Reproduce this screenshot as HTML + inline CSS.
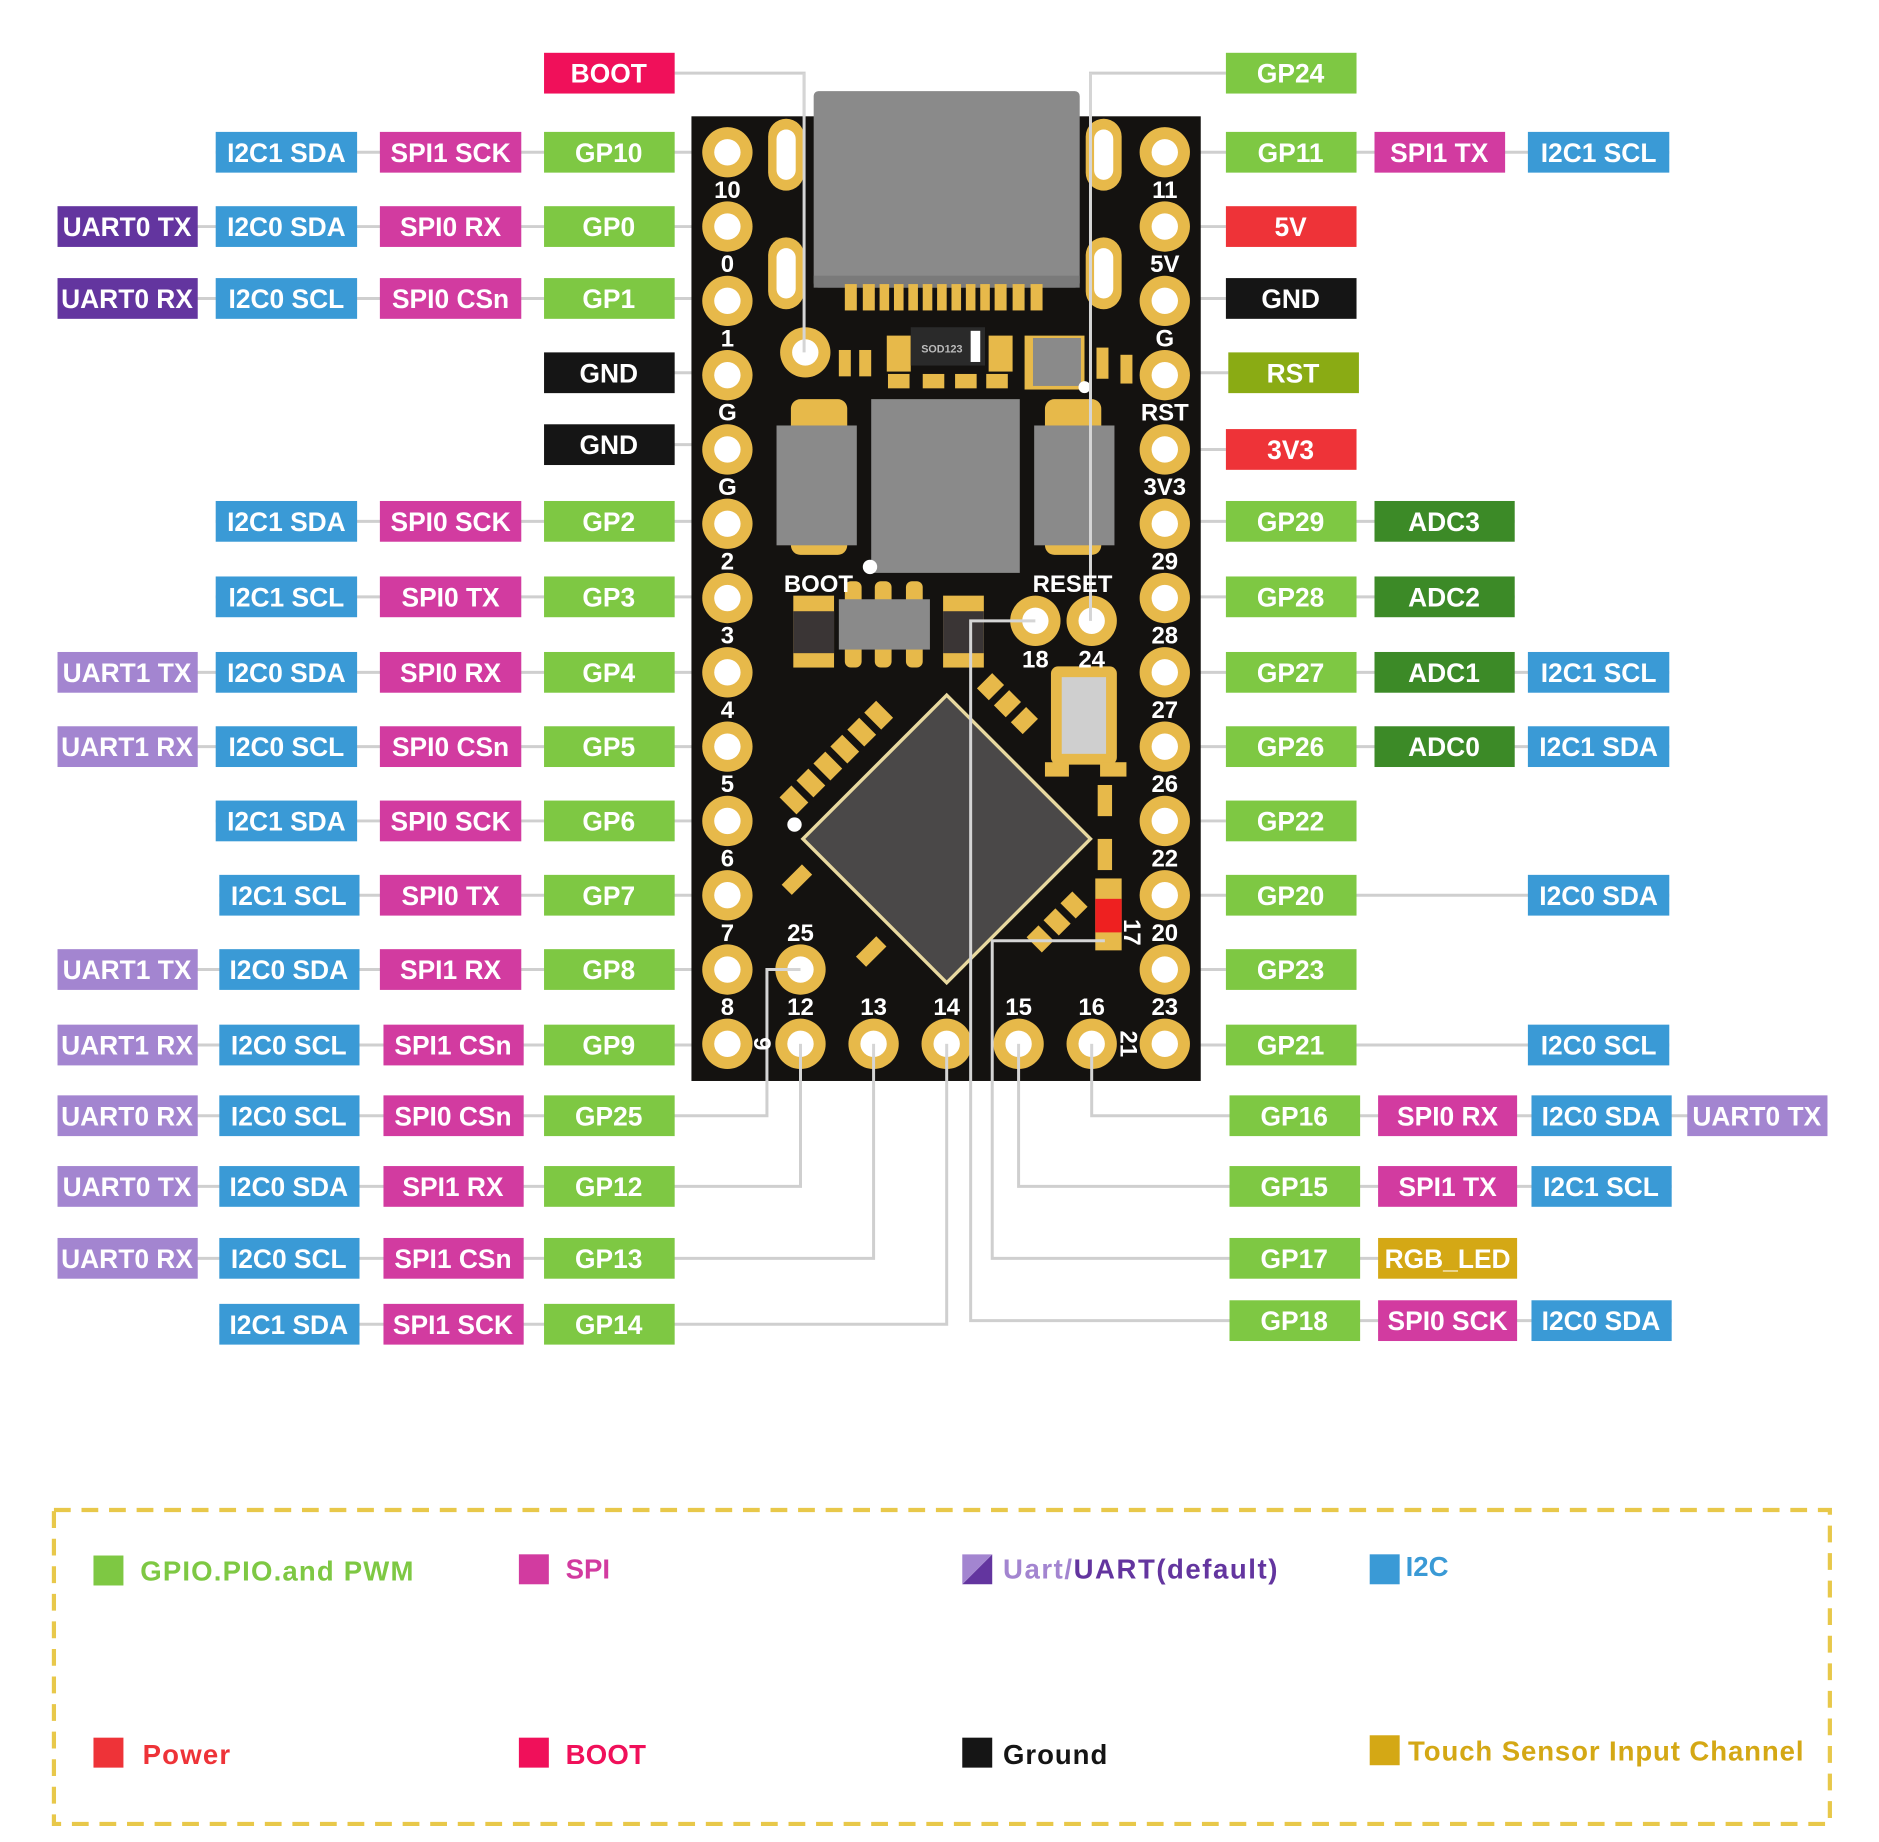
<!DOCTYPE html>
<html><head><meta charset="utf-8"><style>
html,body{margin:0;padding:0;background:#fff}
svg{display:block}
text{font-family:"Liberation Sans",sans-serif;font-weight:bold}
.l text{fill:#fff;font-size:22px;text-anchor:middle}
.pn{fill:#fff;font-size:20px;text-anchor:middle}
</style></head><body>
<svg width="1879" height="1842" viewBox="0 0 1568 1537" xmlns="http://www.w3.org/2000/svg">
<rect width="1568" height="1537" fill="#fff"/>
<g stroke="#cfcfcf" stroke-width="2.5" fill="none">
<path d="M563 61H671V294"/>
<path d="M1023 61H910V518"/>
<path d="M180 127H590M48 189H590M48 249H590M454 311H590M454 371H590M180 435H590M180 498H590M48 561H590M48 623H590M180 685H590M183 747H590M48 809H590M48 872H590"/>
<path d="M980 127H1393M980 189H1023M980 249H1023M980 311H1025M980 375H1023M980 435H1264M980 498H1264M980 561H1393M980 623H1393M980 685H1023M980 747H1393M980 809H1023M980 872H1393"/>
<path d="M48 931H640V809H668"/><path d="M48 990H668V871"/><path d="M48 1050H729V871"/><path d="M183 1105H790V871"/>
<path d="M1525 931H911V871"/><path d="M1395 990H850V871"/><path d="M1266 1050H828V785H922"/><path d="M1395 1102H810V518H864"/>
</g>
<rect x="577" y="97" width="425" height="805" fill="#141210"/>
<rect x="679" y="76" width="222" height="164" rx="4" fill="#8a8a8a"/>
<rect x="679" y="230" width="222" height="10" fill="#7a7a7a"/>
<g fill="#e7b94a">
<rect x="705" y="237" width="10" height="22"/><rect x="720" y="237" width="10" height="22"/><rect x="734" y="237" width="8" height="22"/><rect x="746" y="237" width="8" height="22"/><rect x="758" y="237" width="8" height="22"/><rect x="770" y="237" width="8" height="22"/><rect x="782" y="237" width="8" height="22"/><rect x="794" y="237" width="8" height="22"/><rect x="806" y="237" width="8" height="22"/><rect x="818" y="237" width="8" height="22"/><rect x="830" y="237" width="10" height="22"/><rect x="845" y="237" width="10" height="22"/><rect x="860" y="237" width="10" height="22"/>
<rect x="641" y="99" width="30" height="60" rx="15"/><rect x="641" y="198" width="30" height="60" rx="15"/>
<rect x="906" y="99" width="30" height="60" rx="15"/><rect x="906" y="198" width="30" height="60" rx="15"/>
<rect x="740" y="280" width="20" height="30"/><rect x="825" y="280" width="20" height="30"/>
<rect x="700" y="292" width="10" height="22"/><rect x="717" y="292" width="10" height="22"/>
<rect x="915" y="290" width="10" height="26"/><rect x="935" y="296" width="10" height="24"/><rect x="855" y="280" width="50" height="45"/>
<rect x="741" y="312" width="18" height="12"/><rect x="770" y="312" width="18" height="12"/><rect x="797" y="312" width="18" height="12"/><rect x="823" y="312" width="18" height="12"/>
<rect x="660" y="333" width="47" height="130" rx="8"/><rect x="872" y="333" width="47" height="130" rx="8"/>
<rect x="662" y="497" width="34" height="60"/><rect x="705" y="485" width="14" height="72" rx="5"/><rect x="730" y="485" width="14" height="72" rx="5"/><rect x="756" y="485" width="14" height="72" rx="5"/><rect x="787" y="497" width="34" height="60"/>
<rect x="877" y="556" width="55" height="82" rx="6"/>
<rect x="914" y="733" width="22" height="60"/>
</g>
<g fill="#fff"><rect x="648" y="108" width="16" height="42" rx="8"/><rect x="648" y="207" width="16" height="42" rx="8"/><rect x="913" y="108" width="16" height="42" rx="8"/><rect x="913" y="207" width="16" height="42" rx="8"/></g>
<g fill="#8a8a8a">
<rect x="648" y="355" width="67" height="100"/><rect x="863" y="355" width="67" height="100"/>
<rect x="727" y="333" width="124" height="145"/>
<rect x="700" y="500" width="76" height="42"/>
<rect x="862" y="282" width="40" height="40"/>
</g>
<rect x="662" y="510" width="34" height="35" fill="#3a3535"/><rect x="787" y="510" width="34" height="35" fill="#3a3535"/>
<rect x="760" y="273" width="62" height="32" fill="#2a2a2a"/><rect x="810" y="276" width="8" height="26" fill="#fff"/>
<text x="786" y="294" font-size="9" fill="#bbb" font-weight="normal" text-anchor="middle">SOD123</text>
<rect x="886" y="565" width="37" height="64" fill="#cfcfcf"/>
<polygon points="790,578 912,700 790,822 668,700" fill="#e8d9a0"/>
<polygon points="790,582 908,700 790,818 672,700" fill="#4a4848"/>
<g fill="#e7b94a" transform="rotate(-45 700 630)">
<rect x="640" y="620" width="14" height="20"/><rect x="660" y="620" width="14" height="20"/><rect x="680" y="620" width="14" height="20"/><rect x="700" y="620" width="14" height="20"/><rect x="720" y="620" width="14" height="20"/><rect x="740" y="620" width="14" height="20"/>
</g>
<g fill="#e7b94a" transform="rotate(45 840 585)"><rect x="815" y="577" width="14" height="18"/><rect x="835" y="577" width="14" height="18"/><rect x="855" y="577" width="14" height="18"/></g>
<g fill="#e7b94a" transform="rotate(-45 880 770)"><rect x="855" y="762" width="14" height="18"/><rect x="875" y="762" width="14" height="18"/><rect x="895" y="762" width="14" height="18"/></g>
<rect x="653" y="728" width="24" height="12" fill="#e7b94a" transform="rotate(-45 665 734)"/>
<rect x="715" y="788" width="24" height="12" fill="#e7b94a" transform="rotate(-45 727 794)"/>
<rect x="872" y="636" width="20" height="12" fill="#e7b94a"/><rect x="918" y="636" width="22" height="12" fill="#e7b94a"/><rect x="916" y="655" width="12" height="26" fill="#e7b94a"/><rect x="916" y="700" width="12" height="26" fill="#e7b94a"/>
<rect x="914" y="750" width="22" height="28" fill="#ee2020"/>
<circle cx="663" cy="688" r="6" fill="#fff"/><circle cx="726" cy="473" r="6" fill="#fff"/><circle cx="905" cy="323" r="5" fill="#fff"/>
<g fill="#e7b94a">
<circle cx="607" cy="127" r="21"/><circle cx="607" cy="189" r="21"/><circle cx="607" cy="251" r="21"/><circle cx="607" cy="313" r="21"/><circle cx="607" cy="375" r="21"/><circle cx="607" cy="437" r="21"/><circle cx="607" cy="499" r="21"/><circle cx="607" cy="561" r="21"/><circle cx="607" cy="623" r="21"/><circle cx="607" cy="685" r="21"/><circle cx="607" cy="747" r="21"/><circle cx="607" cy="809" r="21"/><circle cx="607" cy="871" r="21"/>
<circle cx="972" cy="127" r="21"/><circle cx="972" cy="189" r="21"/><circle cx="972" cy="251" r="21"/><circle cx="972" cy="313" r="21"/><circle cx="972" cy="375" r="21"/><circle cx="972" cy="437" r="21"/><circle cx="972" cy="499" r="21"/><circle cx="972" cy="561" r="21"/><circle cx="972" cy="623" r="21"/><circle cx="972" cy="685" r="21"/><circle cx="972" cy="747" r="21"/><circle cx="972" cy="809" r="21"/><circle cx="972" cy="871" r="21"/>
<circle cx="668" cy="871" r="21"/><circle cx="729" cy="871" r="21"/><circle cx="790" cy="871" r="21"/><circle cx="850" cy="871" r="21"/><circle cx="911" cy="871" r="21"/>
<circle cx="668" cy="809" r="21"/><circle cx="864" cy="518" r="21"/><circle cx="911" cy="518" r="21"/><circle cx="672" cy="294" r="21"/>
</g>
<g fill="#fff">
<circle cx="607" cy="127" r="11"/><circle cx="607" cy="189" r="11"/><circle cx="607" cy="251" r="11"/><circle cx="607" cy="313" r="11"/><circle cx="607" cy="375" r="11"/><circle cx="607" cy="437" r="11"/><circle cx="607" cy="499" r="11"/><circle cx="607" cy="561" r="11"/><circle cx="607" cy="623" r="11"/><circle cx="607" cy="685" r="11"/><circle cx="607" cy="747" r="11"/><circle cx="607" cy="809" r="11"/><circle cx="607" cy="871" r="11"/>
<circle cx="972" cy="127" r="11"/><circle cx="972" cy="189" r="11"/><circle cx="972" cy="251" r="11"/><circle cx="972" cy="313" r="11"/><circle cx="972" cy="375" r="11"/><circle cx="972" cy="437" r="11"/><circle cx="972" cy="499" r="11"/><circle cx="972" cy="561" r="11"/><circle cx="972" cy="623" r="11"/><circle cx="972" cy="685" r="11"/><circle cx="972" cy="747" r="11"/><circle cx="972" cy="809" r="11"/><circle cx="972" cy="871" r="11"/>
<circle cx="668" cy="871" r="11"/><circle cx="729" cy="871" r="11"/><circle cx="790" cy="871" r="11"/><circle cx="850" cy="871" r="11"/><circle cx="911" cy="871" r="11"/>
<circle cx="668" cy="809" r="11"/><circle cx="864" cy="518" r="11"/><circle cx="911" cy="518" r="11"/><circle cx="672" cy="294" r="11"/>
</g>
<g stroke="#d5d5d5" stroke-width="2.5" fill="none">
<path d="M671 61V294"/><path d="M910 61V518"/><path d="M828 902V785H922"/><path d="M810 902V518H864"/><path d="M640 902V809H668"/><path d="M668 902V871"/><path d="M729 902V871"/><path d="M790 902V871"/><path d="M850 902V871"/><path d="M911 902V871"/>
</g>
<g class="pn">
<text x="607" y="165">10</text><text x="607" y="227">0</text><text x="607" y="289">1</text><text x="607" y="351">G</text><text x="607" y="413">G</text><text x="607" y="475">2</text><text x="607" y="537">3</text><text x="607" y="599">4</text><text x="607" y="661">5</text><text x="607" y="723">6</text><text x="607" y="785">7</text><text x="607" y="847">8</text>
<text x="972" y="165">11</text><text x="972" y="227">5V</text><text x="972" y="289">G</text><text x="972" y="351">RST</text><text x="972" y="413">3V3</text><text x="972" y="475">29</text><text x="972" y="537">28</text><text x="972" y="599">27</text><text x="972" y="661">26</text><text x="972" y="723">22</text><text x="972" y="785">20</text><text x="972" y="847">23</text>
<text x="668" y="847">12</text><text x="729" y="847">13</text><text x="790" y="847">14</text><text x="850" y="847">15</text><text x="911" y="847">16</text><text x="668" y="785">25</text>
<text x="864" y="557">18</text><text x="911" y="557">24</text>
<text x="683" y="494">BOOT</text><text x="895" y="494">RESET</text>
<text x="0" y="0" transform="translate(629,871) rotate(90)">9</text>
<text x="0" y="0" transform="translate(935,871) rotate(90)">21</text>
<text x="0" y="0" transform="translate(938,778) rotate(90)">17</text>
</g>
<g class="l">
<rect x="454" y="44" width="109" height="34" fill="#f0105a"/><text x="508" y="69">BOOT</text>
<rect x="1023" y="44" width="109" height="34" fill="#7ec843"/><text x="1077" y="69">GP24</text>
<rect x="180" y="110" width="118" height="34" fill="#3a9ad6"/><text x="239" y="135">I2C1 SDA</text>
<rect x="317" y="110" width="118" height="34" fill="#d23ba0"/><text x="376" y="135">SPI1 SCK</text>
<rect x="454" y="110" width="109" height="34" fill="#7ec843"/><text x="508" y="135">GP10</text>
<rect x="48" y="172" width="117" height="34" fill="#63359f"/><text x="106" y="197">UART0 TX</text>
<rect x="180" y="172" width="118" height="34" fill="#3a9ad6"/><text x="239" y="197">I2C0 SDA</text>
<rect x="317" y="172" width="118" height="34" fill="#d23ba0"/><text x="376" y="197">SPI0 RX</text>
<rect x="454" y="172" width="109" height="34" fill="#7ec843"/><text x="508" y="197">GP0</text>
<rect x="48" y="232" width="117" height="34" fill="#63359f"/><text x="106" y="257">UART0 RX</text>
<rect x="180" y="232" width="118" height="34" fill="#3a9ad6"/><text x="239" y="257">I2C0 SCL</text>
<rect x="317" y="232" width="118" height="34" fill="#d23ba0"/><text x="376" y="257">SPI0 CSn</text>
<rect x="454" y="232" width="109" height="34" fill="#7ec843"/><text x="508" y="257">GP1</text>
<rect x="454" y="294" width="109" height="34" fill="#151515"/><text x="508" y="319">GND</text>
<rect x="454" y="354" width="109" height="34" fill="#151515"/><text x="508" y="379">GND</text>
<rect x="180" y="418" width="118" height="34" fill="#3a9ad6"/><text x="239" y="443">I2C1 SDA</text>
<rect x="317" y="418" width="118" height="34" fill="#d23ba0"/><text x="376" y="443">SPI0 SCK</text>
<rect x="454" y="418" width="109" height="34" fill="#7ec843"/><text x="508" y="443">GP2</text>
<rect x="180" y="481" width="118" height="34" fill="#3a9ad6"/><text x="239" y="506">I2C1 SCL</text>
<rect x="317" y="481" width="118" height="34" fill="#d23ba0"/><text x="376" y="506">SPI0 TX</text>
<rect x="454" y="481" width="109" height="34" fill="#7ec843"/><text x="508" y="506">GP3</text>
<rect x="48" y="544" width="117" height="34" fill="#a385d0"/><text x="106" y="569">UART1 TX</text>
<rect x="180" y="544" width="118" height="34" fill="#3a9ad6"/><text x="239" y="569">I2C0 SDA</text>
<rect x="317" y="544" width="118" height="34" fill="#d23ba0"/><text x="376" y="569">SPI0 RX</text>
<rect x="454" y="544" width="109" height="34" fill="#7ec843"/><text x="508" y="569">GP4</text>
<rect x="48" y="606" width="117" height="34" fill="#a385d0"/><text x="106" y="631">UART1 RX</text>
<rect x="180" y="606" width="118" height="34" fill="#3a9ad6"/><text x="239" y="631">I2C0 SCL</text>
<rect x="317" y="606" width="118" height="34" fill="#d23ba0"/><text x="376" y="631">SPI0 CSn</text>
<rect x="454" y="606" width="109" height="34" fill="#7ec843"/><text x="508" y="631">GP5</text>
<rect x="180" y="668" width="118" height="34" fill="#3a9ad6"/><text x="239" y="693">I2C1 SDA</text>
<rect x="317" y="668" width="118" height="34" fill="#d23ba0"/><text x="376" y="693">SPI0 SCK</text>
<rect x="454" y="668" width="109" height="34" fill="#7ec843"/><text x="508" y="693">GP6</text>
<rect x="183" y="730" width="117" height="34" fill="#3a9ad6"/><text x="241" y="755">I2C1 SCL</text>
<rect x="317" y="730" width="118" height="34" fill="#d23ba0"/><text x="376" y="755">SPI0 TX</text>
<rect x="454" y="730" width="109" height="34" fill="#7ec843"/><text x="508" y="755">GP7</text>
<rect x="48" y="792" width="117" height="34" fill="#a385d0"/><text x="106" y="817">UART1 TX</text>
<rect x="183" y="792" width="117" height="34" fill="#3a9ad6"/><text x="241" y="817">I2C0 SDA</text>
<rect x="317" y="792" width="118" height="34" fill="#d23ba0"/><text x="376" y="817">SPI1 RX</text>
<rect x="454" y="792" width="109" height="34" fill="#7ec843"/><text x="508" y="817">GP8</text>
<rect x="48" y="855" width="117" height="34" fill="#a385d0"/><text x="106" y="880">UART1 RX</text>
<rect x="183" y="855" width="117" height="34" fill="#3a9ad6"/><text x="241" y="880">I2C0 SCL</text>
<rect x="320" y="855" width="117" height="34" fill="#d23ba0"/><text x="378" y="880">SPI1 CSn</text>
<rect x="454" y="855" width="109" height="34" fill="#7ec843"/><text x="508" y="880">GP9</text>
<rect x="48" y="914" width="117" height="34" fill="#a385d0"/><text x="106" y="939">UART0 RX</text>
<rect x="183" y="914" width="117" height="34" fill="#3a9ad6"/><text x="241" y="939">I2C0 SCL</text>
<rect x="320" y="914" width="117" height="34" fill="#d23ba0"/><text x="378" y="939">SPI0 CSn</text>
<rect x="454" y="914" width="109" height="34" fill="#7ec843"/><text x="508" y="939">GP25</text>
<rect x="48" y="973" width="117" height="34" fill="#a385d0"/><text x="106" y="998">UART0 TX</text>
<rect x="183" y="973" width="117" height="34" fill="#3a9ad6"/><text x="241" y="998">I2C0 SDA</text>
<rect x="320" y="973" width="117" height="34" fill="#d23ba0"/><text x="378" y="998">SPI1 RX</text>
<rect x="454" y="973" width="109" height="34" fill="#7ec843"/><text x="508" y="998">GP12</text>
<rect x="48" y="1033" width="117" height="34" fill="#a385d0"/><text x="106" y="1058">UART0 RX</text>
<rect x="183" y="1033" width="117" height="34" fill="#3a9ad6"/><text x="241" y="1058">I2C0 SCL</text>
<rect x="320" y="1033" width="117" height="34" fill="#d23ba0"/><text x="378" y="1058">SPI1 CSn</text>
<rect x="454" y="1033" width="109" height="34" fill="#7ec843"/><text x="508" y="1058">GP13</text>
<rect x="183" y="1088" width="117" height="34" fill="#3a9ad6"/><text x="241" y="1113">I2C1 SDA</text>
<rect x="320" y="1088" width="117" height="34" fill="#d23ba0"/><text x="378" y="1113">SPI1 SCK</text>
<rect x="454" y="1088" width="109" height="34" fill="#7ec843"/><text x="508" y="1113">GP14</text>
<rect x="1023" y="110" width="109" height="34" fill="#7ec843"/><text x="1077" y="135">GP11</text>
<rect x="1147" y="110" width="109" height="34" fill="#d23ba0"/><text x="1201" y="135">SPI1 TX</text>
<rect x="1275" y="110" width="118" height="34" fill="#3a9ad6"/><text x="1334" y="135">I2C1 SCL</text>
<rect x="1023" y="172" width="109" height="34" fill="#ee3338"/><text x="1077" y="197">5V</text>
<rect x="1023" y="232" width="109" height="34" fill="#151515"/><text x="1077" y="257">GND</text>
<rect x="1025" y="294" width="109" height="34" fill="#8aab14"/><text x="1079" y="319">RST</text>
<rect x="1023" y="358" width="109" height="34" fill="#ee3338"/><text x="1077" y="383">3V3</text>
<rect x="1023" y="418" width="109" height="34" fill="#7ec843"/><text x="1077" y="443">GP29</text>
<rect x="1147" y="418" width="117" height="34" fill="#3c8a27"/><text x="1205" y="443">ADC3</text>
<rect x="1023" y="481" width="109" height="34" fill="#7ec843"/><text x="1077" y="506">GP28</text>
<rect x="1147" y="481" width="117" height="34" fill="#3c8a27"/><text x="1205" y="506">ADC2</text>
<rect x="1023" y="544" width="109" height="34" fill="#7ec843"/><text x="1077" y="569">GP27</text>
<rect x="1147" y="544" width="117" height="34" fill="#3c8a27"/><text x="1205" y="569">ADC1</text>
<rect x="1275" y="544" width="118" height="34" fill="#3a9ad6"/><text x="1334" y="569">I2C1 SCL</text>
<rect x="1023" y="606" width="109" height="34" fill="#7ec843"/><text x="1077" y="631">GP26</text>
<rect x="1147" y="606" width="117" height="34" fill="#3c8a27"/><text x="1205" y="631">ADC0</text>
<rect x="1275" y="606" width="118" height="34" fill="#3a9ad6"/><text x="1334" y="631">I2C1 SDA</text>
<rect x="1023" y="668" width="109" height="34" fill="#7ec843"/><text x="1077" y="693">GP22</text>
<rect x="1023" y="730" width="109" height="34" fill="#7ec843"/><text x="1077" y="755">GP20</text>
<rect x="1275" y="730" width="118" height="34" fill="#3a9ad6"/><text x="1334" y="755">I2C0 SDA</text>
<rect x="1023" y="792" width="109" height="34" fill="#7ec843"/><text x="1077" y="817">GP23</text>
<rect x="1023" y="855" width="109" height="34" fill="#7ec843"/><text x="1077" y="880">GP21</text>
<rect x="1275" y="855" width="118" height="34" fill="#3a9ad6"/><text x="1334" y="880">I2C0 SCL</text>
<rect x="1026" y="914" width="109" height="34" fill="#7ec843"/><text x="1080" y="939">GP16</text>
<rect x="1150" y="914" width="116" height="34" fill="#d23ba0"/><text x="1208" y="939">SPI0 RX</text>
<rect x="1278" y="914" width="117" height="34" fill="#3a9ad6"/><text x="1336" y="939">I2C0 SDA</text>
<rect x="1408" y="914" width="117" height="34" fill="#a385d0"/><text x="1466" y="939">UART0 TX</text>
<rect x="1026" y="973" width="109" height="34" fill="#7ec843"/><text x="1080" y="998">GP15</text>
<rect x="1150" y="973" width="116" height="34" fill="#d23ba0"/><text x="1208" y="998">SPI1 TX</text>
<rect x="1278" y="973" width="117" height="34" fill="#3a9ad6"/><text x="1336" y="998">I2C1 SCL</text>
<rect x="1026" y="1033" width="109" height="34" fill="#7ec843"/><text x="1080" y="1058">GP17</text>
<rect x="1150" y="1033" width="116" height="34" fill="#d4a815"/><text x="1208" y="1058">RGB_LED</text>
<rect x="1026" y="1085" width="109" height="34" fill="#7ec843"/><text x="1080" y="1110">GP18</text>
<rect x="1150" y="1085" width="116" height="34" fill="#d23ba0"/><text x="1208" y="1110">SPI0 SCK</text>
<rect x="1278" y="1085" width="117" height="34" fill="#3a9ad6"/><text x="1336" y="1110">I2C0 SDA</text>
</g>
<rect x="45" y="1260" width="1482" height="262" fill="none" stroke="#e8c84a" stroke-width="3.5" stroke-dasharray="14 9"/>
<g font-size="23">
<rect x="78" y="1298" width="25" height="25" fill="#7ec843"/><text x="117" y="1319" fill="#7ec843" textLength="228">GPIO.PIO.and PWM</text>
<rect x="433" y="1297" width="25" height="25" fill="#d23ba0"/><text x="472" y="1317" fill="#d23ba0">SPI</text>
<polygon points="803,1322 828,1297 828,1322" fill="#63359f"/><polygon points="803,1297 828,1297 803,1322" fill="#a385d0"/>
<text x="837" y="1317" textLength="229"><tspan fill="#a385d0">Uart/</tspan><tspan fill="#63359f">UART(default)</tspan></text>
<rect x="1143" y="1297" width="25" height="25" fill="#3a9ad6"/><text x="1173" y="1315" fill="#3a9ad6">I2C</text>
<rect x="78" y="1450" width="25" height="25" fill="#ee3338"/><text x="119" y="1472" fill="#ee3338" textLength="73">Power</text>
<rect x="433" y="1450" width="25" height="25" fill="#f0105a"/><text x="472" y="1472" fill="#f0105a" textLength="67">BOOT</text>
<rect x="803" y="1450" width="25" height="25" fill="#151515"/><text x="837" y="1472" fill="#151515" textLength="87">Ground</text>
<rect x="1143" y="1448" width="25" height="25" fill="#d4a815"/><text x="1175" y="1469" fill="#d4a815" textLength="330">Touch Sensor Input Channel</text>
</g>
</svg>
</body></html>
